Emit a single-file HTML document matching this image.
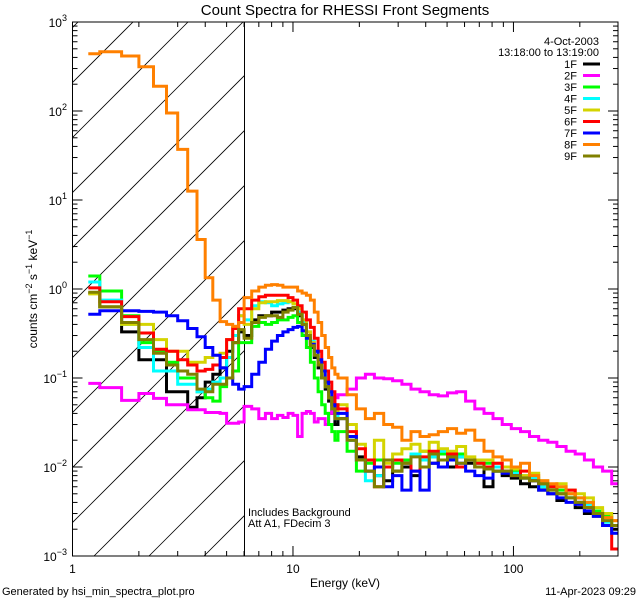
<!DOCTYPE html>
<html><head><meta charset="utf-8"><style>
html,body{margin:0;padding:0;background:#fff}
svg{display:block}
text{font-family:"Liberation Sans",sans-serif;fill:#000}
</style></head><body>
<svg id="chart" width="640" height="600" viewBox="0 0 640 600" xmlns="http://www.w3.org/2000/svg">
<rect x="0" y="0" width="640" height="600" fill="#fff"/>
<defs><clipPath id="plotclip"><rect x="72.5" y="22" width="545.5" height="534"/></clipPath>
<clipPath id="hatchclip"><rect x="72.5" y="22" width="172" height="534"/></clipPath></defs>
<text x="345" y="15" text-anchor="middle" font-size="15">Count Spectra for RHESSI Front Segments</text>
<g id="hatch" clip-path="url(#hatchclip)"></g>
<line x1="244.5" y1="22" x2="244.5" y2="556" stroke="#000" stroke-width="1"/>
<g id="series" clip-path="url(#plotclip)"></g>
<rect x="72.5" y="22" width="545.5" height="534" fill="none" stroke="#000" stroke-width="1"/>
<g id="axes"></g>
<text x="345" y="587" text-anchor="middle" font-size="12">Energy (keV)</text>
<text transform="translate(37,289) rotate(-90)" text-anchor="middle" font-size="12">counts cm<tspan dy="-5" font-size="9">−2</tspan><tspan dy="5"> s</tspan><tspan dy="-5" font-size="9">−1</tspan><tspan dy="5"> keV</tspan><tspan dy="-5" font-size="9">−1</tspan></text>
<text x="2" y="595" font-size="11">Generated by hsi_min_spectra_plot.pro</text>
<text x="636" y="595" text-anchor="end" font-size="11">11-Apr-2023 09:29</text>
<text x="248" y="516" font-size="11">Includes Background</text>
<text x="248" y="527" font-size="11">Att A1, FDecim 3</text>
<text x="599" y="45" text-anchor="end" font-size="11">4-Oct-2003</text>
<text x="599" y="56" text-anchor="end" font-size="11">13:18:00 to 13:19:00</text>
<g id="legend"></g>
</svg>
<script>
const energyEdges = [1.18,1.33,1.67,2.0,2.33,2.67,3.0,3.33,3.67,4.0,4.33,4.67,5.0,5.33,5.67,6.0,
6.5,7,7.5,8,8.5,9,9.5,10,10.5,11,11.5,12,12.5,13,13.5,14,14.5,15,15.5,16,
17.6,19.4,21.3,23.4,25.8,28.3,31.2,34.3,37.7,41.5,45.6,50.2,55.2,60.7,66.8,73.5,80.8,88.9,97.8,107.6,118.3,130.2,143.2,157.5,173.3,190.6,209.7,230.6,253.7,279,300];
const seriesNames = ["1F","2F","3F","4F","5F","6F","7F","8F","9F"];
const seriesColors = ["#000000","#ff00ff","#00ff00","#00ffff","#d4d400","#ff0000","#0000ff","#ff8000","#808000"];
const s1F = [0.9,0.63,0.33,0.16,0.16,0.07,0.07,0.047,0.06,0.09,0.11,0.13,0.2,0.25,0.33,
0.3,0.45,0.5,0.5,0.55,0.55,0.58,0.6,0.6,0.5,0.4,0.3,0.22,0.17,0.13,0.1,0.075,0.055,0.04,0.03,
0.035,0.02,0.013,0.009,0.008,0.007,0.009,0.01,0.008,0.012,0.011,0.012,0.01,0.013,0.011,0.01,0.006,0.009,0.008,0.0075,0.0065,0.006,0.0055,0.005,0.0042,0.0045,0.0035,0.003,0.0028,0.0022,0.002];
const s2F = [0.087,0.078,0.056,0.067,0.059,0.05,0.05,0.044,0.044,0.041,0.041,0.04,0.031,0.031,0.032,
0.048,0.045,0.035,0.04,0.035,0.038,0.036,0.04,0.038,0.022,0.04,0.042,0.04,0.032,0.035,0.035,0.03,0.04,0.05,0.06,
0.065,0.075,0.1,0.11,0.1,0.098,0.093,0.085,0.075,0.07,0.065,0.063,0.068,0.07,0.055,0.045,0.04,0.035,0.03,0.027,0.025,0.022,0.02,0.019,0.017,0.015,0.014,0.012,0.01,0.009,0.0065];
const s3F = [1.4,0.95,0.5,0.25,0.2,0.15,0.1,0.1,0.07,0.06,0.055,0.08,0.1,0.12,0.25,
0.25,0.38,0.42,0.4,0.42,0.45,0.45,0.48,0.5,0.42,0.3,0.22,0.15,0.1,0.07,0.05,0.04,0.03,0.025,0.02,
0.025,0.015,0.009,0.011,0.012,0.01,0.011,0.012,0.014,0.015,0.013,0.014,0.013,0.014,0.012,0.011,0.011,0.009,0.01,0.009,0.0075,0.007,0.006,0.006,0.0055,0.005,0.0045,0.004,0.0032,0.0028,0.0022];
const s4F = [1.2,0.75,0.4,0.22,0.12,0.12,0.085,0.085,0.07,0.075,0.09,0.1,0.17,0.3,0.5,
0.45,0.65,0.72,0.7,0.65,0.68,0.7,0.72,0.68,0.55,0.42,0.33,0.26,0.2,0.15,0.11,0.08,0.06,0.045,0.035,
0.04,0.02,0.012,0.007,0.008,0.01,0.012,0.011,0.014,0.012,0.013,0.015,0.014,0.013,0.012,0.011,0.01,0.01,0.009,0.0085,0.008,0.0075,0.006,0.0055,0.005,0.0045,0.004,0.0038,0.003,0.0024,0.0018];
const s5F = [0.88,0.63,0.4,0.4,0.27,0.2,0.2,0.15,0.15,0.17,0.18,0.19,0.27,0.38,0.5,
0.4,0.6,0.7,0.72,0.72,0.74,0.74,0.72,0.68,0.6,0.45,0.33,0.25,0.2,0.15,0.11,0.08,0.06,0.05,0.04,
0.05,0.03,0.018,0.012,0.02,0.011,0.014,0.016,0.018,0.015,0.019,0.016,0.015,0.017,0.013,0.012,0.012,0.011,0.01,0.0095,0.008,0.0085,0.007,0.006,0.0065,0.0055,0.005,0.0045,0.0035,0.003,0.0025];
const s6F = [1.03,0.72,0.49,0.32,0.21,0.2,0.16,0.14,0.12,0.125,0.14,0.17,0.27,0.36,0.6,
0.6,0.75,0.82,0.85,0.85,0.85,0.85,0.8,0.75,0.65,0.55,0.45,0.37,0.28,0.2,0.15,0.12,0.09,0.07,0.05,
0.045,0.025,0.016,0.012,0.006,0.01,0.012,0.011,0.009,0.013,0.015,0.012,0.014,0.01,0.012,0.011,0.01,0.011,0.009,0.008,0.009,0.007,0.0065,0.006,0.005,0.0055,0.004,0.0035,0.003,0.0022,0.0012];
const s7F = [0.52,0.57,0.57,0.56,0.55,0.5,0.44,0.36,0.29,0.22,0.18,0.13,0.1,0.085,0.075,
0.08,0.11,0.15,0.21,0.26,0.3,0.33,0.35,0.37,0.38,0.34,0.28,0.24,0.2,0.16,0.12,0.09,0.07,0.05,0.04,
0.04,0.022,0.012,0.009,0.01,0.006,0.008,0.0055,0.009,0.0055,0.011,0.01,0.012,0.011,0.009,0.008,0.0075,0.009,0.0085,0.008,0.0075,0.007,0.0055,0.005,0.0045,0.004,0.0038,0.0032,0.0028,0.0022,0.0018];
const s8F = [440,463,415,315,190,95,37,12.6,3.6,1.34,0.75,0.43,0.4,0.38,0.42,
0.8,0.95,1.05,1.1,1.12,1.1,1.05,1.05,1.05,0.95,0.9,0.85,0.75,0.55,0.42,0.3,0.22,0.17,0.13,0.11,
0.1,0.065,0.045,0.035,0.04,0.03,0.028,0.02,0.025,0.022,0.023,0.025,0.027,0.024,0.026,0.02,0.015,0.013,0.012,0.01,0.011,0.008,0.007,0.0065,0.006,0.005,0.0045,0.004,0.003,0.0027,0.0025];
const s9F = [0.92,0.63,0.42,0.27,0.19,0.14,0.12,0.11,0.075,0.07,0.085,0.085,0.1,0.25,0.35,
0.28,0.42,0.48,0.5,0.5,0.48,0.55,0.58,0.62,0.52,0.4,0.3,0.23,0.18,0.14,0.1,0.08,0.06,0.045,0.035,
0.035,0.02,0.012,0.009,0.006,0.012,0.009,0.011,0.013,0.01,0.014,0.012,0.013,0.011,0.012,0.01,0.0095,0.009,0.009,0.008,0.0075,0.007,0.0065,0.0055,0.005,0.0045,0.004,0.0035,0.003,0.0025,0.0022];
const seriesValues = [s1F,s2F,s3F,s4F,s5F,s6F,s7F,s8F,s9F];
const xTickLabels = ["1","10","100"];
const yTickExponents = ["-3","-2","-1","0","1","2","3"];

const NS = "http://www.w3.org/2000/svg";
const X0 = 72.5, X1 = 618, Y0 = 22, Y1 = 556;
const XMIN = 0, XMAX = Math.log10(298), YMIN = -3, YMAX = 3;
function xs(e){ return X0 + (Math.log10(e) - XMIN) / (XMAX - XMIN) * (X1 - X0); }
function ys(v){ return Y1 - (Math.log10(v) - YMIN) / (YMAX - YMIN) * (Y1 - Y0); }
function mk(tag, attrs, parent){ const el = document.createElementNS(NS, tag); for (const k in attrs) el.setAttribute(k, attrs[k]); parent.appendChild(el); return el; }

// hatch
const hatch = document.getElementById("hatch");
for (let b = -500; b < 300; b += 55) {
  const ln = mk("line", {x1: b + 44, y1: Y1, x2: b + 44 + (Y1 - Y0), y2: Y0, stroke: "#000", "stroke-width": 0.8}, hatch);
  
  
}

// series
const sg = document.getElementById("series");
seriesValues.forEach((vals, si) => {
  let d = "";
  for (let i = 0; i < vals.length; i++) {
    const xa = xs(energyEdges[i]), xb = xs(energyEdges[i + 1]), y = ys(vals[i]);
    d += (i === 0 ? "M" : "L") + xa.toFixed(1) + "," + y.toFixed(1) + "L" + xb.toFixed(1) + "," + y.toFixed(1);
  }
  const p = mk("path", {d: d, fill: "none", stroke: seriesColors[si], "stroke-width": 3, "stroke-linejoin": "miter"}, sg);
  
  
});

// axes
const ax = document.getElementById("axes");
for (let dec = 0; dec <= 2; dec++) {
  for (let m = 1; m <= 9; m++) {
    const e = m * Math.pow(10, dec);
    if (e > 298) break;
    const x = xs(e), len = m === 1 ? 10 : 5;
    const t1 = mk("line", {x1: x, y1: Y1, x2: x, y2: Y1 - len, stroke: "#000"}, ax);
    
    
    const t2 = mk("line", {x1: x, y1: Y0, x2: x, y2: Y0 + len, stroke: "#000"}, ax);
    
    
  }
}
xTickLabels.forEach(lbl => {
  const t = mk("text", {x: xs(parseFloat(lbl)), y: 573, "text-anchor": "middle", "font-size": 12}, ax);
  t.textContent = lbl;
  
  
});
for (let dec = -3; dec <= 3; dec++) {
  for (let m = 1; m <= 9; m++) {
    if (dec === 3 && m > 1) break;
    const v = m * Math.pow(10, dec), y = ys(v), len = m === 1 ? 10 : 5;
    const t1 = mk("line", {x1: X0, y1: y, x2: X0 + len, y2: y, stroke: "#000"}, ax);
    
    
    const t2 = mk("line", {x1: X1, y1: y, x2: X1 - len, y2: y, stroke: "#000"}, ax);
    
    
  }
}
yTickExponents.forEach(ex => {
  const y = ys(Math.pow(10, parseFloat(ex)));
  const t = mk("text", {x: 67, y: y + 5, "text-anchor": "end", "font-size": 12}, ax);
  
  
  const b = document.createElementNS(NS, "tspan"); b.textContent = "10"; t.appendChild(b);
  const s = document.createElementNS(NS, "tspan"); s.setAttribute("dy", -6); s.setAttribute("font-size", 9);
  s.textContent = ex.replace("-", "−"); t.appendChild(s);
});

// legend
const lg = document.getElementById("legend");
seriesNames.forEach((n, i) => {
  const y = 64 + i * 11.5;
  const t = mk("text", {x: 577, y: y + 4, "text-anchor": "end", "font-size": 11}, lg);
  t.textContent = n;
  
  
  const l = mk("line", {x1: 583, y1: y, x2: 600, y2: y, stroke: seriesColors[i], "stroke-width": 3}, lg);
  
  
});
</script>
</body></html>
